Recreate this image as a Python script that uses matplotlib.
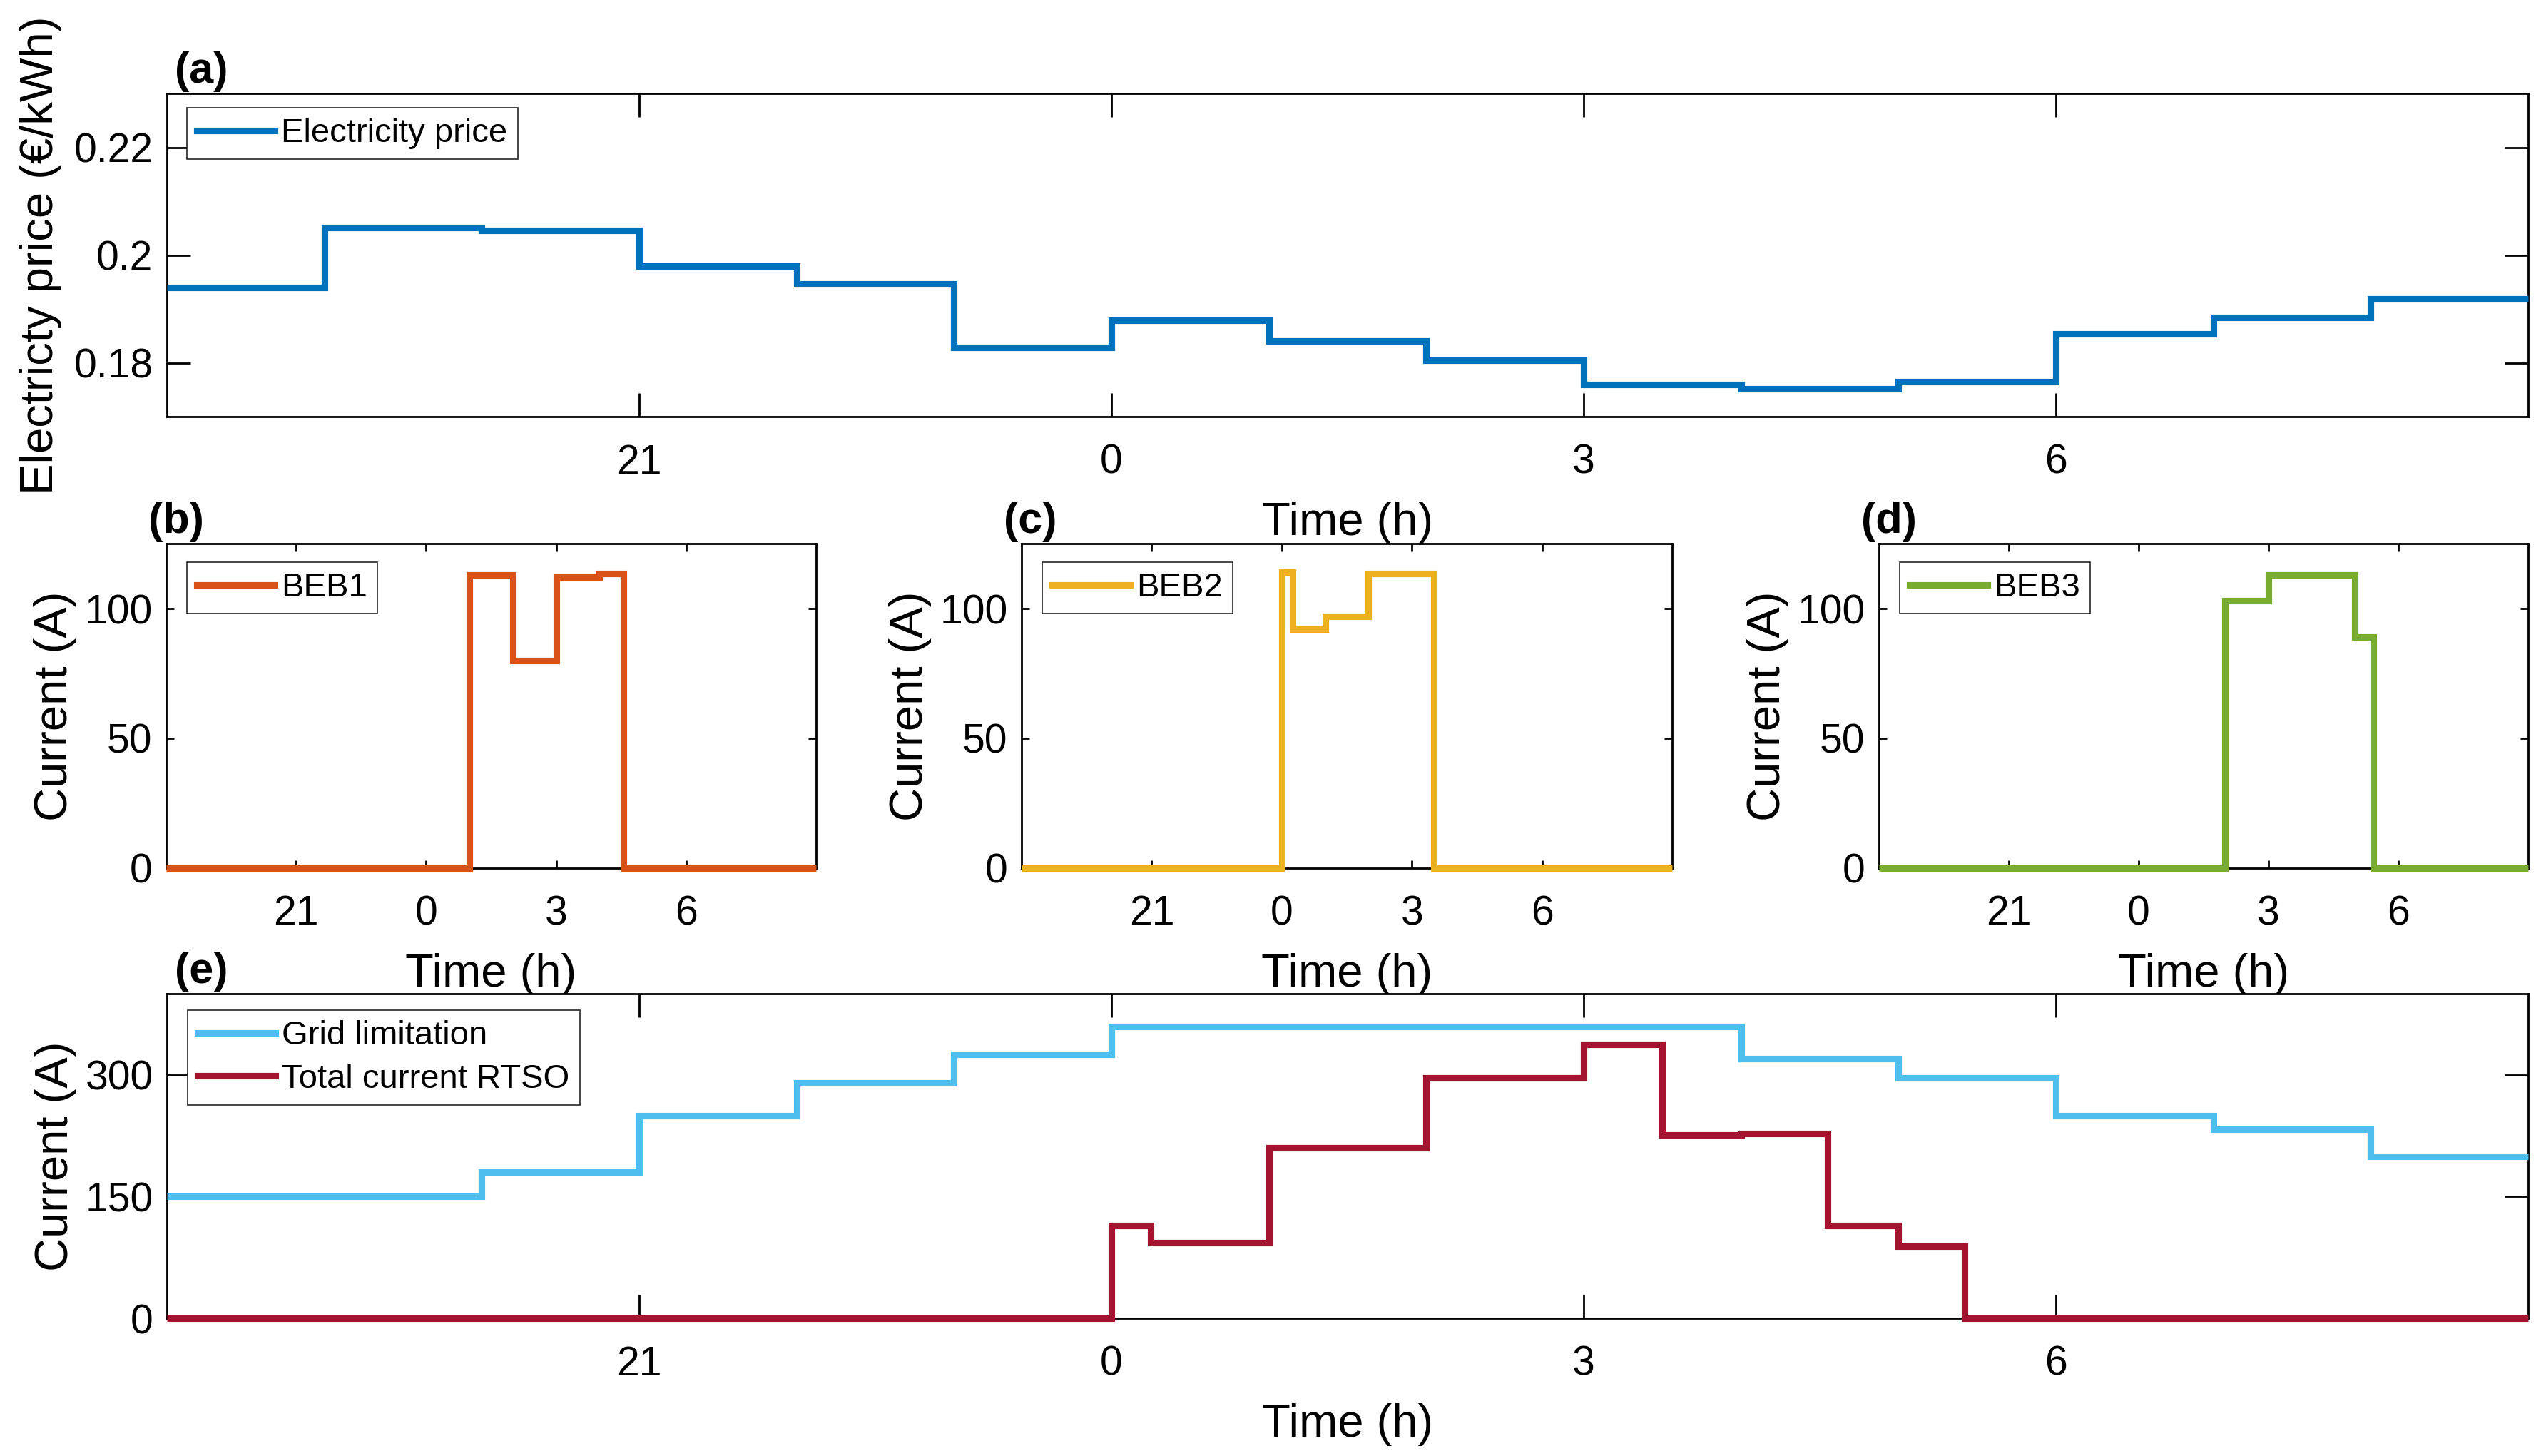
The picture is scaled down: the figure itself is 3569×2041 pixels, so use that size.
import matplotlib
matplotlib.use("Agg")
import matplotlib.pyplot as plt

plt.rcParams["font.family"] = ["Liberation Sans", "DejaVu Sans"]

# Time in hours, 24 = midnight of the next day
x_ticks = [21, 24, 27, 30]
x_tick_labels = ["21", "0", "3", "6"]

# (a) electricity price, hourly steps
price_edges = [18, 19, 20, 21, 22, 23, 24, 25, 26, 27, 28, 29, 30, 31, 32, 33]
price_values = [0.194, 0.2051, 0.2046, 0.198, 0.1947, 0.1828, 0.1879, 0.184,
                0.1804, 0.176, 0.1751, 0.1765, 0.1853, 0.1884, 0.1918]

# (b)-(d) bus charging currents
beb1_edges = [18, 25, 26, 27, 28, 28.55, 33]
beb1_values = [0, 113, 80, 112, 113.5, 0]
beb2_edges = [18, 24, 24.25, 25, 26, 27.5, 33]
beb2_values = [0, 114, 92, 97, 113.5, 0]
beb3_edges = [18, 26, 27, 29, 29.42, 33]
beb3_values = [0, 103, 113, 89, 0]

# (e) grid limit and total current
grid_edges = [18, 20, 21, 22, 23, 24, 28, 29, 30, 31, 32, 33]
grid_values = [150, 180, 250, 290, 325, 360, 320, 296, 250, 233, 200]
total_edges = [18, 24, 24.25, 25, 26, 27, 27.5, 28, 28.55, 29, 29.42, 33]
total_values = [0, 114, 93, 210, 296, 338, 226, 228, 114, 89, 0]

C_BLUE = "#0072BD"
C_ORANGE = "#D95319"
C_YELLOW = "#EDB120"
C_GREEN = "#77AC30"
C_LBLUE = "#4DBEEE"
C_RED = "#A2142F"

W, H = 3569, 2041
LW = 3.3
TICK_FS = 20.5
LABEL_FS = 23.5
LEG_FS = 17


def box(x0, y0, x1, y1):
    """pixel box (left, top, right, bottom) -> figure fraction rect"""
    return [x0 / W, 1 - y1 / H, (x1 - x0) / W, (y1 - y0) / H]


def style_axes(ax, ticklen):
    ax.set_xlim(18, 33)
    ax.set_xticks(x_ticks)
    ax.set_xticklabels(x_tick_labels)
    ax.tick_params(axis="both", direction="in", top=True, right=True,
                   length=ticklen, width=1.0, labelsize=TICK_FS)
    ax.tick_params(axis="x", pad=13.5)
    ax.tick_params(axis="y", pad=7)
    for s in ax.spines.values():
        s.set_linewidth(1.0)
    ax.set_xlabel("Time (h)", fontsize=LABEL_FS, labelpad=10)


def add_legend(ax, anchor):
    leg = ax.legend(loc="upper left", bbox_to_anchor=anchor, borderaxespad=0,
                    fontsize=LEG_FS, handlelength=2.3, handletextpad=0.2,
                    borderpad=0.3, labelspacing=0.35, fancybox=False,
                    framealpha=1)
    leg.get_frame().set_edgecolor("#262626")
    leg.get_frame().set_linewidth(0.6)


def panel_label(ax, text, dx):
    ax.text(dx, 1.004, text, transform=ax.transAxes, fontsize=22,
            fontweight="bold", ha="left", va="bottom")


fig = plt.figure(figsize=(W / 200, H / 200), dpi=200)

# (a)
ax_a = fig.add_axes(box(234, 131, 3544, 584))
ax_a.stairs(price_values, price_edges, baseline=None, color=C_BLUE, lw=LW,
            label="Electricity price", zorder=3, clip_on=False)
ax_a.set_ylim(0.17, 0.23)
ax_a.set_yticks([0.18, 0.2, 0.22])
ax_a.set_yticklabels(["0.18", "0.2", "0.22"])
style_axes(ax_a, 12)
ax_a.set_ylabel("Electricty price (€/kWh)", fontsize=LABEL_FS, labelpad=6)
add_legend(ax_a, (0.0085, 0.956))
panel_label(ax_a, "(a)", 0.0033)

# (b)-(d)
small = [
    (box(233, 762, 1144, 1217), beb1_edges, beb1_values, C_ORANGE, "BEB1", "(b)"),
    (box(1432, 762, 2344, 1217), beb2_edges, beb2_values, C_YELLOW, "BEB2", "(c)"),
    (box(2634, 762, 3544, 1217), beb3_edges, beb3_values, C_GREEN, "BEB3", "(d)"),
]
for rect, edges, vals, col, name, tag in small:
    ax = fig.add_axes(rect)
    ax.stairs(vals, edges, baseline=None, color=col, lw=LW, label=name,
              zorder=3, clip_on=False)
    ax.set_ylim(0, 125)
    ax.set_yticks([0, 50, 100])
    style_axes(ax, 4)
    ax.set_ylabel("Current (A)", fontsize=LABEL_FS, labelpad=4)
    add_legend(ax, (0.032, 0.943))
    panel_label(ax, tag, -0.027)

# (e)
ax_e = fig.add_axes(box(234, 1393, 3544, 1848))
ax_e.stairs(grid_values, grid_edges, baseline=None, color=C_LBLUE, lw=LW,
            label="Grid limitation", zorder=3, clip_on=False)
ax_e.stairs(total_values, total_edges, baseline=None, color=C_RED, lw=LW,
            label="Total current RTSO", zorder=3, clip_on=False)
ax_e.set_ylim(0, 400)
ax_e.set_yticks([0, 150, 300])
style_axes(ax_e, 12)
ax_e.set_ylabel("Current (A)", fontsize=LABEL_FS, labelpad=4)
add_legend(ax_e, (0.0088, 0.949))
panel_label(ax_e, "(e)", 0.0033)

fig.savefig("out.png", dpi=200)
plt.close(fig)
